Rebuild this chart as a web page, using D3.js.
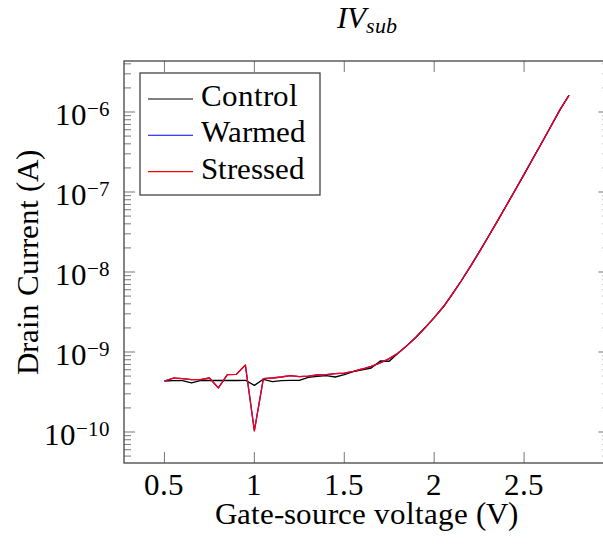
<!DOCTYPE html>
<html>
<head>
<meta charset="utf-8">
<script src="https://cdn.jsdelivr.net/npm/d3@7"></script>
<style>
  @font-face { font-family: "ChartSerif"; src: local("Liberation Serif"), local("LiberationSerif"), local("Tinos"), local("Times New Roman"); font-style: normal; }
  @font-face { font-family: "ChartSerif"; src: local("Liberation Serif Italic"), local("LiberationSerif-Italic"), local("Tinos Italic"); font-style: italic; }
  body { margin: 0; background: #fff; }
  svg text { font-family: "ChartSerif", "Liberation Serif", Tinos, "Times New Roman", serif; }
</style>
</head>
<body>
<div id="chart"></div>
<script>
// gate-source voltage sweep (V)
const voltage = [0.5, 0.55, 0.6, 0.65, 0.7, 0.75, 0.8, 0.85, 0.9, 0.95,
                 1.0, 1.05, 1.1, 1.15, 1.2, 1.25, 1.3, 1.35, 1.4, 1.45,
                 1.5, 1.55, 1.6, 1.65, 1.7, 1.75, 1.8, 1.85, 1.9, 1.95,
                 2.0, 2.05, 2.1, 2.15, 2.2, 2.25, 2.3, 2.35, 2.4, 2.45,
                 2.5, 2.55, 2.6, 2.65, 2.7, 2.75];

// drain current (A)
const control = [4.34e-10, 4.38e-10, 4.38e-10, 4.10e-10, 4.40e-10, 4.43e-10, 4.40e-10, 4.40e-10, 4.40e-10, 4.43e-10,
                 3.83e-10, 4.56e-10, 4.27e-10, 4.38e-10, 4.43e-10, 4.43e-10, 4.82e-10, 4.97e-10, 5.07e-10, 4.87e-10,
                 5.22e-10, 5.70e-10, 6.00e-10, 6.31e-10, 7.72e-10, 7.66e-10, 9.72e-10, 1.21e-9, 1.54e-9, 2.02e-9,
                 2.69e-9, 3.65e-9, 5.24e-9, 7.72e-9, 1.16e-8, 1.77e-8, 2.74e-8, 4.27e-8, 6.68e-8, 1.053e-7,
                 1.66e-7, 2.64e-7, 4.19e-7, 6.68e-7, 1.07e-6, 1.62e-6];

const warmed = [4.34e-10, 4.72e-10, 4.65e-10, 4.52e-10, 4.52e-10, 4.73e-10, 3.56e-10, 5.22e-10, 5.26e-10, 6.86e-10,
                1.04e-10, 4.65e-10, 4.73e-10, 4.87e-10, 5.06e-10, 4.93e-10, 5.00e-10, 5.16e-10, 5.22e-10, 5.37e-10,
                5.45e-10, 5.74e-10, 6.13e-10, 6.62e-10, 7.29e-10, 8.27e-10, 9.72e-10, 1.21e-9, 1.54e-9, 2.02e-9,
                2.69e-9, 3.65e-9, 5.24e-9, 7.72e-9, 1.16e-8, 1.77e-8, 2.74e-8, 4.27e-8, 6.68e-8, 1.053e-7,
                1.66e-7, 2.64e-7, 4.19e-7, 6.68e-7, 1.07e-6, 1.62e-6];

const stressed = [4.34e-10, 4.73e-10, 4.65e-10, 4.52e-10, 4.52e-10, 4.73e-10, 3.55e-10, 5.22e-10, 5.26e-10, 6.88e-10,
                  1.03e-10, 4.65e-10, 4.73e-10, 4.87e-10, 5.07e-10, 4.93e-10, 5.00e-10, 5.16e-10, 5.22e-10, 5.37e-10,
                  5.45e-10, 5.74e-10, 6.13e-10, 6.62e-10, 7.29e-10, 8.27e-10, 9.72e-10, 1.21e-9, 1.54e-9, 2.02e-9,
                  2.69e-9, 3.65e-9, 5.24e-9, 7.72e-9, 1.16e-8, 1.77e-8, 2.74e-8, 4.27e-8, 6.68e-8, 1.053e-7,
                  1.66e-7, 2.64e-7, 4.19e-7, 6.68e-7, 1.07e-6, 1.62e-6];

const seriesNames = ["Control", "Warmed", "Stressed"];
const seriesColors = ["#000000", "#0000ff", "#ff0000"];
const xTickValues = [0.5, 1, 1.5, 2, 2.5];
const yTickExponents = [-10, -9, -8, -7, -6];

const W = 603, H = 548;
const margin = { top: 61, left: 124 },
      width = 485.5,
      height = 402;

const svg = d3.select("#chart").append("svg")
    .attr("width", W)
    .attr("height", H)
    .style("display", "block");

const x = d3.scaleLinear().domain([0.275, 2.975]).range([0, width]);
const y = d3.scaleLog().domain([Math.pow(10, -10.3875), Math.pow(10, -5.3625)]).range([height, 0]);

const g = svg.append("g")
    .attr("transform", `translate(${margin.left},${margin.top})`);

function label(sel) {
    return sel.append("text").attr("font-size", 31);
}

// ticks, pointing inward on all four sides
const tickColor = "#777";
const majorLen = 11, minorLen = 7;

xTickValues.forEach(v => {
    g.append("line").attr("x1", x(v)).attr("x2", x(v)).attr("y1", height).attr("y2", height - majorLen)
        .attr("stroke", tickColor).attr("stroke-width", 1);
    g.append("line").attr("x1", x(v)).attr("x2", x(v)).attr("y1", 0).attr("y2", majorLen)
        .attr("stroke", tickColor).attr("stroke-width", 1);
});

const [y0, y1] = y.domain();
y.ticks().filter(v => v >= y0 && v <= y1).forEach(v => {
    const lg = Math.log10(v);
    const isMajor = Math.abs(lg - Math.round(lg)) < 1e-6;
    const len = isMajor ? majorLen : minorLen;
    g.append("line").attr("x1", 0).attr("x2", len).attr("y1", y(v)).attr("y2", y(v))
        .attr("stroke", tickColor).attr("stroke-width", 1);
    g.append("line").attr("x1", width).attr("x2", width - len).attr("y1", y(v)).attr("y2", y(v))
        .attr("stroke", tickColor).attr("stroke-width", 1);
});

// series lines
const line = d3.line()
    .x((d, i) => x(voltage[i]))
    .y(d => y(d));

[control, warmed, stressed].forEach((s, i) => {
    g.append("path")
        .datum(s)
        .attr("fill", "none")
        .attr("stroke", seriesColors[i])
        .attr("stroke-width", 1.3)
        .attr("stroke-linejoin", "round")
        .attr("d", line);
});

// frame
g.append("rect")
    .attr("width", width)
    .attr("height", height)
    .attr("fill", "none")
    .attr("stroke", "#444")
    .attr("stroke-width", 1.3);

// x tick labels
xTickValues.forEach(v => {
    label(g)
        .attr("x", x(v))
        .attr("y", height + 32)
        .attr("text-anchor", "middle")
        .text(String(v));
});

// y tick labels: 10^k
yTickExponents.forEach(k => {
    const t = label(g)
        .attr("x", -14)
        .attr("y", y(Math.pow(10, k)) + 13)
        .attr("text-anchor", "end");
    t.append("tspan").text("10");
    t.append("tspan")
        .attr("dy", -9)
        .attr("font-size", 21)
        .text("\u2212" + Math.abs(k));
});

// axis labels
label(svg)
    .attr("x", margin.left + width / 2)
    .attr("y", 524)
    .attr("text-anchor", "middle")
    .text("Gate-source voltage (V)");

label(svg)
    .attr("transform", `translate(38,${margin.top + height / 2}) rotate(-90)`)
    .attr("text-anchor", "middle")
    .text("Drain Current (A)");

// title
const title = label(svg)
    .attr("x", margin.left + width / 2)
    .attr("y", 28)
    .attr("text-anchor", "middle")
    .attr("font-style", "italic");
title.append("tspan").text("IV");
title.append("tspan")
    .attr("dy", 5)
    .attr("font-size", 22)
    .text("sub");

// legend
const legend = svg.append("g").attr("transform", "translate(140,73)");
legend.append("rect")
    .attr("width", 180)
    .attr("height", 122)
    .attr("fill", "#fff")
    .attr("stroke", "#444")
    .attr("stroke-width", 1.3);

seriesNames.forEach((name, i) => {
    const cy = 26 + i * 36.3;
    legend.append("line")
        .attr("x1", 8).attr("x2", 53)
        .attr("y1", cy).attr("y2", cy)
        .attr("stroke", seriesColors[i])
        .attr("stroke-width", 1.1);
    label(legend)
        .attr("x", 61)
        .attr("y", cy + 7)
        .text(name);
});
</script>
</body>
</html>
